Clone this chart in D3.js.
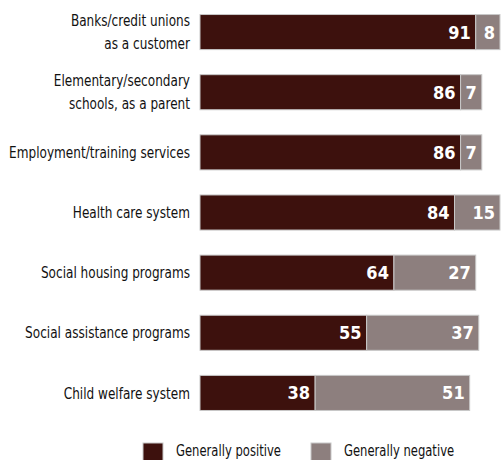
<!DOCTYPE html>
<html><head><meta charset="utf-8">
<script src="https://cdn.jsdelivr.net/npm/d3@7"></script>
<style>
body{margin:0;background:#fff;}
svg{display:block;font-family:"DejaVu Sans Condensed","DejaVu Sans",sans-serif;font-stretch:condensed;}
</style></head>
<body><svg id="chart" width="501" height="460"></svg>
<script>
const categories = [
  ["Banks/credit unions","as a customer"],
  ["Elementary/secondary","schools, as a parent"],
  ["Employment/training services"],
  ["Health care system"],
  ["Social housing programs"],
  ["Social assistance programs"],
  ["Child welfare system"]
];
const positive = [91, 86, 86, 84, 64, 55, 38];
const negative = [8, 7, 7, 15, 27, 37, 51];
const seriesNames = ["Generally positive", "Generally negative"];
const colors = ["#3d110d", "#8d7f7e"];

const svg = d3.select("#chart");
const x = d3.scaleLinear().domain([0, 100]).range([200, 503]);
const y = d3.scaleBand().domain(d3.range(categories.length)).range([2.5, 422.5]).paddingInner(0.4167).paddingOuter(0.2);

const rows = svg.selectAll("g.row").data(categories).join("g").attr("class","row");

rows.each(function(c, i){
  const g = d3.select(this);
  const y0 = y(i), h = y.bandwidth();
  const segs = [
    {v: positive[i], x0: 0, color: colors[0]},
    {v: negative[i], x0: positive[i], color: colors[1]}
  ];
  segs.forEach(s => {
    g.append("rect")
      .attr("x", x(s.x0)).attr("y", y0)
      .attr("width", x(s.x0 + s.v) - x(s.x0)).attr("height", h)
      .attr("fill", s.color).attr("stroke", "#c8c8c8").attr("stroke-width", 1);
    g.append("text")
      .attr("x", x(s.x0 + s.v) - 5).attr("y", y0 + h/2)
      .attr("dy", "0.36em").attr("text-anchor", "end")
      .attr("fill", "#fff").attr("font-weight", "bold").attr("font-size", 18)
      .text(s.v);
  });
  const t = g.append("text").attr("text-anchor","end").attr("fill","#111").attr("font-size",16)
    .attr("transform", `translate(190,0) scale(0.84,1)`);
  const n = c.length;
  c.forEach((line, k) => {
    t.append("tspan").attr("x", 0)
      .attr("y", y0 + h/2 + (k - (n-1)/2) * 23)
      .attr("dy","0.35em").text(line);
  });
});

const legX = [143, 311];
seriesNames.forEach((name, i) => {
  svg.append("rect").attr("x", legX[i]).attr("y", 443).attr("width", 20).attr("height", 20)
    .attr("fill", colors[i]).attr("stroke","#c8c8c8").attr("stroke-width",1);
  svg.append("text").attr("font-size", 15).attr("fill","#111")
    .attr("transform", `translate(${legX[i] + 33},456) scale(0.86,1)`).text(name);
});
</script></body></html>
